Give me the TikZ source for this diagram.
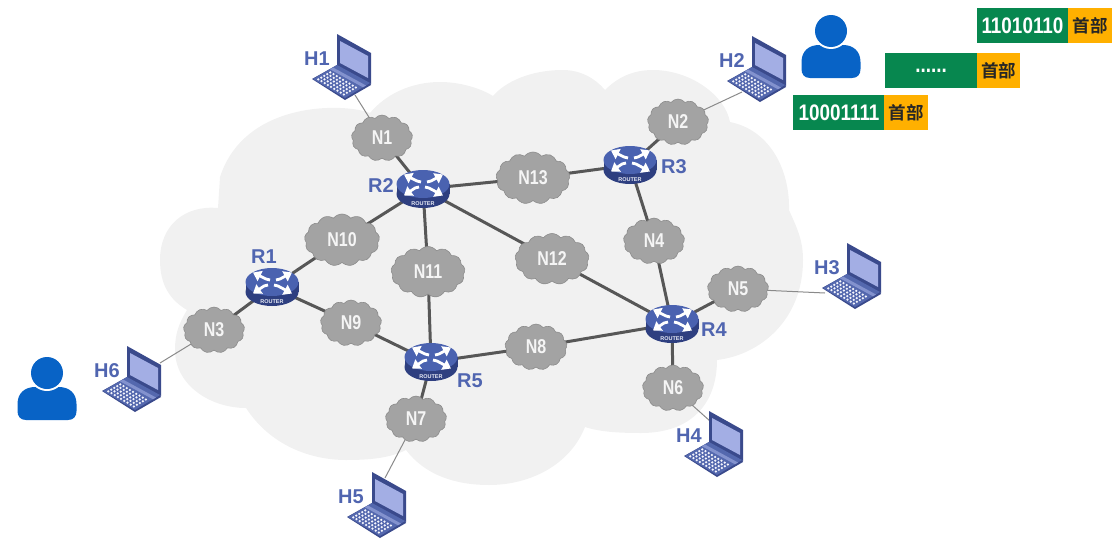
\documentclass[tikz,border=0pt]{standalone}
\usepackage{fontspec}
\setmainfont{Liberation Sans}
\newfontfamily\cjkbold[BoldFont={Noto Sans CJK SC Bold}]{Noto Sans CJK SC}
\newfontfamily\digitfont[FakeStretch=0.84]{Liberation Sans}
\newfontfamily\puffont[FakeStretch=0.8]{Liberation Sans}
\usetikzlibrary{shapes.symbols,arrows.meta}
\pgfdeclarelayer{haze}
\pgfdeclarelayer{links}
\pgfsetlayers{haze,links,main}
\definecolor{hazegray}{HTML}{F1F1F1}
\definecolor{puffgray}{HTML}{A3A3A3}
\definecolor{puffedge}{HTML}{8C8C8C}
\definecolor{linkgray}{HTML}{575757}
\definecolor{hostgray}{HTML}{8A8A8A}
\definecolor{tagblue}{HTML}{5065B0}
\definecolor{routertop}{HTML}{4A62B0}
\definecolor{routerside}{HTML}{2E3F80}
\definecolor{lapdark}{HTML}{3A4A8C}
\definecolor{lapmid}{HTML}{5468AE}
\definecolor{lapscreen}{HTML}{A3AEE4}
\definecolor{personblue}{HTML}{0863C6}
\definecolor{pktgreen}{HTML}{07874F}
\definecolor{pktorange}{HTML}{FFB000}
\tikzset{
  x=1pt,y=-1pt,
  puff/.style={cloud,cloud puffs=13,cloud puff arc=105,aspect=1.3,draw=puffedge,fill=puffgray,
    line width=0.6pt,inner sep=0pt,text=white!96!black,font=\puffont\bfseries\fontsize{20}{22}\selectfont},
  trunk/.style={draw=linkgray,line width=3pt},
  hostlink/.style={draw=hostgray,line width=1pt},
  tag/.style={text=tagblue,font=\bfseries\fontsize{20}{21}\selectfont,inner sep=0pt},
  payload/.style={fill=pktgreen,text=white,minimum width=92pt,minimum height=35pt,inner sep=0pt,
    font=\digitfont\bfseries\fontsize{22.5}{24}\selectfont},
  header/.style={fill=pktorange,text=black!85,minimum width=43.5pt,minimum height=35pt,inner sep=0pt,
    font=\cjkbold\bfseries\fontsize{17.5}{20}\selectfont},
  swarrow/.style={draw=white,line width=2.8pt,-{Triangle[length=8pt,width=11pt]}},
  router/.pic={
    % puck body, then its lit top face and the four switching arrows
    \fill[routerside] (0,5) ellipse[x radius=26.5,y radius=14];
    \fill[routerside] (-26.5,-5) rectangle (26.5,5);
    \fill[routertop] (0,-5) ellipse[x radius=26.5,y radius=14];
    \draw[swarrow] (-2,-7) -- (-6,-8) -- (-19,-14.5);
    \draw[swarrow] (4,-7) -- (8,-8) -- (20,-14.5);
    \draw[swarrow] (-4,-2) -- (-8,-1) -- (-19,6.5);
    \draw[swarrow] (2,-2) -- (6,-1) -- (20,6.5);
    \node[text=white!88!routertop,font=\bfseries\fontsize{5.5}{5.5}\selectfont,inner sep=0pt] at (0,14.5) {ROUTER};
  },
  laptop/.pic={
    % lid, seen from the front at an angle
    \fill[lapdark] (0,-31) -- (34,-12) -- (34,19) -- (0,1) -- cycle;
    \fill[lapscreen] (3,-24) -- (31,-9) -- (31,13) -- (3,-2) -- cycle;
    % base with its front edge
    \fill[lapdark] (-25,14) -- (8,35) -- (34,20) -- (33,18) -- (0,0) -- cycle;
    \fill[lapmid] (-24,14) -- (8,33) -- (33,18) -- (0,0) -- cycle;
    \fill[lapscreen!60!lapmid] (-4,2.5) -- (29,20.5) -- (26,22.3) -- (-7,4.3) -- cycle;
    \foreach \i in {1,...,9}{
      \foreach \j in {1,...,5}{
        \fill[white!88!lapscreen]
          ({-24+32*(\i-0.1)/10+24*(\j-0.2)/8},{14+19*(\i-0.1)/10-14*(\j-0.2)/8})
          circle[radius=1.25];
      }
    }
  },
  person/.pic={
    \fill[personblue] (-21,47) .. controls (-27,47) and (-29.5,43) .. (-29.5,38)
      -- (-29.5,31) .. controls (-29.5,20) and (-22,14) .. (-12,14)
      -- (12,14) .. controls (22,14) and (29.5,20) .. (29.5,31)
      -- (29.5,38) .. controls (29.5,43) and (27,47) .. (21,47) -- cycle;
    \fill[white] (0,0) circle[radius=18];
    \fill[personblue] (0,0) circle[radius=16];
  }
}
\begin{document}
\begin{tikzpicture}
\useasboundingbox (0,0) rectangle (1119,546);

% network backdrop, lobe by lobe clockwise from the notch above N1
\begin{pgfonlayer}{haze}
  \fill[hazegray] (370,113)
    .. controls (345,103) and (245,100) .. (220,177) -- (218,208)
    .. controls (185,205) and (160,225) .. (160,260)
    .. controls (160,285) and (170,300) .. (187,310)
    .. controls (178,325) and (175,335) .. (175,350)
    .. controls (175,385) and (210,408) .. (246,408)
    .. controls (270,445) and (310,460) .. (346,460)
    .. controls (370,460) and (390,458) .. (406,450)
    .. controls (425,475) and (455,485) .. (489,485)
    .. controls (530,485) and (570,465) .. (585,427)
    .. controls (600,432) and (620,433) .. (641,433)
    .. controls (690,433) and (717,405) .. (717,360)
    .. controls (760,355) and (803,320) .. (803,260)
    .. controls (803,240) and (797,228) .. (789,210)
    .. controls (790,170) and (770,130) .. (730,122)
    .. controls (725,95) and (690,70) .. (653,70)
    .. controls (632,70) and (617,78) .. (605,90)
    .. controls (595,78) and (580,70) .. (563,70)
    .. controls (530,70) and (505,82) .. (493,96)
    .. controls (480,88) and (460,82) .. (440,82)
    .. controls (410,82) and (385,95) .. (370,113) -- cycle;
\end{pgfonlayer}

% routers
\coordinate (R1) at (272,287);
\coordinate (R2) at (423,189);
\coordinate (R3) at (630,165);
\coordinate (R4) at (672,324);
\coordinate (R5) at (431,362);
\foreach \r in {R1,R2,R3,R4,R5}{ \pic at (\r) {router}; }

% access networks
\node[puff,minimum width=61pt,minimum height=46pt] (N1) at (382,138) {N1};
\node[puff,minimum width=61pt,minimum height=46pt] (N2) at (678,122) {N2};
\node[puff,minimum width=61pt,minimum height=46pt] (N3) at (214,330) {N3};
\node[puff,minimum width=61pt,minimum height=46pt] (N4) at (654,241) {N4};
\node[puff,minimum width=61pt,minimum height=46pt] (N5) at (738,289) {N5};
\node[puff,minimum width=61pt,minimum height=46pt] (N6) at (673,388) {N6};
\node[puff,minimum width=61pt,minimum height=46pt] (N7) at (416,419) {N7};
\node[puff,minimum width=62pt,minimum height=46pt] (N8) at (536,347) {N8};
\node[puff,minimum width=61pt,minimum height=46pt] (N9) at (351,323) {N9};
\node[puff,minimum width=75pt,minimum height=52pt] (N10) at (342,240) {N10};
\node[puff,minimum width=74pt,minimum height=51pt] (N11) at (428,272) {N11};
\node[puff,minimum width=74pt,minimum height=51pt] (N12) at (552,259) {N12};
\node[puff,minimum width=74pt,minimum height=52pt] (N13) at (533,178) {N13};

% hosts
\pic at (337,65) {laptop};
\pic at (752,67) {laptop};
\pic at (847,274) {laptop};
\pic at (709,442) {laptop};
\pic at (372,503) {laptop};
\pic at (127,377) {laptop};
\coordinate (H1p) at (355,95);
\coordinate (H2p) at (742,92);
\coordinate (H3p) at (825,293);
\coordinate (H4p) at (710,421);
\coordinate (H5p) at (385,478);
\coordinate (H6p) at (160,363);

% links
\begin{pgfonlayer}{links}
  \foreach \a/\b in {R2/N1,R2/N13,N13/R3,R3/N2,R3/N4,N4/R4,R4/N5,R4/N6,R4/N12,N12/R2,
                     R2/N11,N11/R5,R2/N10,N10/R1,R1/N9,N9/R5,R1/N3,R5/N7,R5/N8,N8/R4}{
    \draw[trunk] (\a.center) -- (\b.center);
  }
  \foreach \a/\b in {H1p/N1,H2p/N2,H3p/N5,H4p/N6,H5p/N7,H6p/N3}{
    \draw[hostlink] (\a) -- (\b.center);
  }
\end{pgfonlayer}

% router and host names
\node[tag] (tR1) at (264,257) {R1};
\node[tag] (tR2) at (381,186) {R2};
\node[tag] (tR3) at (674,167) {R3};
\node[tag] (tR4) at (714,330) {R4};
\node[tag] (tR5) at (470,381) {R5};
\node[tag] (tH1) at (317,59) {H1};
\node[tag] (tH2) at (732,61) {H2};
\node[tag] (tH3) at (827,268) {H3};
\node[tag] (tH4) at (689,436) {H4};
\node[tag] (tH5) at (351,497) {H5};
\node[tag] (tH6) at (107,371) {H6};

% users
\pic at (831,31) {person};
\pic at (47,373) {person};

% packets
\node[payload] (P1) at (1022.5,25.5) {11010110};
\node[header] (H1h) at (1090,25.5) {首部};
\node[payload] (P2) at (931,70.5) {......};
\node[header] (H2h) at (998.5,70.5) {首部};
\node[payload] (P3) at (839,112.5) {10001111};
\node[header] (H3h) at (906,112.5) {首部};
\end{tikzpicture}
\end{document}
